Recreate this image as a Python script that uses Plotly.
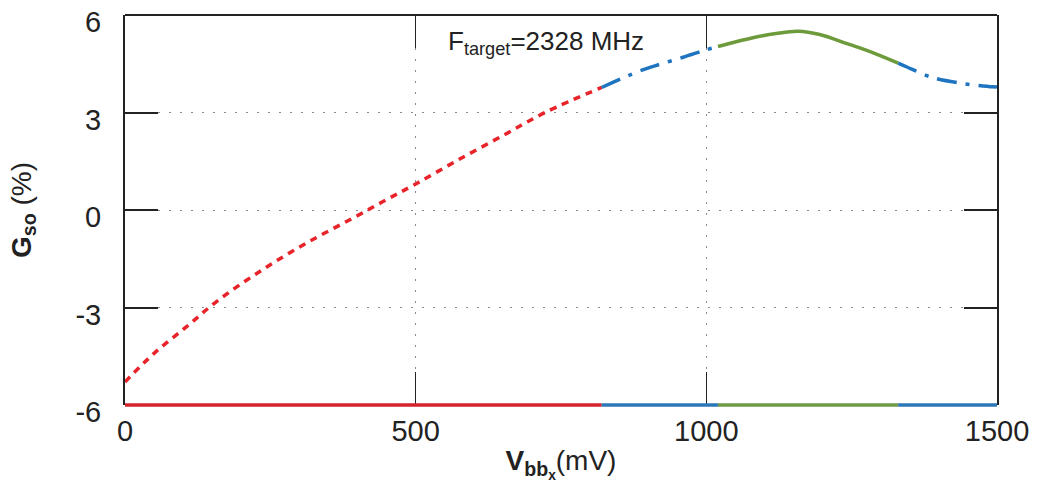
import plotly.graph_objects as go

# ---- data ----
red_x = [0, 50, 106, 158, 232, 310, 393, 450, 500, 571, 651, 725, 820]
red_y = [-5.29, -4.41, -3.59, -2.81, -1.89, -1.04, -0.24, 0.32, 0.80, 1.52, 2.30, 3.02, 3.77]
blue1_x = [820, 880, 909, 960, 1000, 1020]
blue1_y = [3.77, 4.24, 4.42, 4.70, 4.93, 5.03]
green_x = [1020, 1080, 1120, 1158, 1195, 1242, 1276, 1330]
green_y = [5.03, 5.30, 5.43, 5.50, 5.40, 5.12, 4.91, 4.52]
blue2_x = [1330, 1345, 1390, 1442, 1493, 1500]
blue2_y = [4.52, 4.40, 4.07, 3.89, 3.79, 3.79]

# region bands drawn along the bottom axis
band_edges = [0, 820, 1020, 1330, 1500]
band_colors = ["#d2232f", "#2b77b8", "#6f9a47", "#2b77b8"]

x_ticks = [0, 500, 1000, 1500]
y_ticks = [-6, -3, 0, 3, 6]

FONT = "Liberation Sans, Arial, sans-serif"
TXT = "#222222"
RED = "#e8232a"
BLUE = "#1f74c0"
GREEN = "#6d9b3c"

fig = go.Figure()
fig.add_trace(go.Scatter(x=red_x, y=red_y, mode="lines",
                         line=dict(color=RED, width=3.5, dash="7px,6px", shape="spline"),
                         showlegend=False))
fig.add_trace(go.Scatter(x=blue1_x, y=blue1_y, mode="lines",
                         line=dict(color=BLUE, width=3.5, dash="20px,9px,4px,9px", shape="spline"),
                         showlegend=False))
fig.add_trace(go.Scatter(x=green_x, y=green_y, mode="lines",
                         line=dict(color=GREEN, width=3.5, shape="spline"),
                         showlegend=False))
fig.add_trace(go.Scatter(x=blue2_x, y=blue2_y, mode="lines",
                         line=dict(color=BLUE, width=3.5, dash="20px,9px,4px,9px", shape="spline"),
                         showlegend=False))

shapes = []
for i, c in enumerate(band_colors):
    shapes.append(dict(type="line", xref="x", yref="paper",
                       x0=band_edges[i], x1=band_edges[i + 1], y0=0, y1=0,
                       line=dict(color=c, width=3.5), layer="above"))
# top frame line
shapes.append(dict(type="line", xref="paper", yref="paper", x0=0, x1=1, y0=1, y1=1,
                   line=dict(color=TXT, width=2), layer="above"))

fig.update_layout(
    width=1039, height=495, autosize=False,
    margin=dict(l=125, r=42, t=15, b=90),
    paper_bgcolor="white", plot_bgcolor="white",
    font=dict(family=FONT, size=29, color=TXT),
    shapes=shapes,
    annotations=[dict(
        x=0.368, y=0.93, xref="paper", yref="paper", xanchor="left", yanchor="middle",
        text="F<sub>target</sub>=2328 MHz", showarrow=False,
        font=dict(family=FONT, size=26, color=TXT))],
)

fig.update_xaxes(
    range=[0, 1500], tickvals=x_ticks, ticktext=[str(v) for v in x_ticks],
    ticks="inside", ticklen=33, tickwidth=1, tickcolor=TXT,
    showline=False, mirror="ticks", zeroline=False, automargin=False,
    showgrid=True, gridcolor="#8a8a8a", griddash="2px,9px", gridwidth=1,
    tickfont=dict(family=FONT, size=29, color=TXT),
    ticklabelstandoff=6, ticklabeloverflow="allow",
    title=dict(text="<b>V<sub>bb<sub>x</sub></sub></b>(mV)", standoff=4,
               font=dict(family=FONT, size=28, color=TXT)),
)
fig.update_yaxes(
    range=[-6, 6], tickvals=y_ticks, ticktext=[str(v) for v in y_ticks],
    ticks="inside", ticklen=33, tickwidth=1.5, tickcolor=TXT,
    showline=True, linecolor=TXT, linewidth=2, mirror="allticks", zeroline=False,
    automargin=False,
    showgrid=True, gridcolor="#8a8a8a", griddash="2px,9px", gridwidth=1,
    tickfont=dict(family=FONT, size=29, color=TXT),
    ticklabelstandoff=16, ticklabeloverflow="allow", ticklabelshift=7,
    title=dict(text="<b>G<sub>so</sub></b> (%)", standoff=36,
               font=dict(family=FONT, size=28, color=TXT)),
)

# remove the default 8px page margin so the figure fills the window exactly
fig.write_html("out.html", config={"displayModeBar": False},
               post_script="document.body.style.margin='0';")
